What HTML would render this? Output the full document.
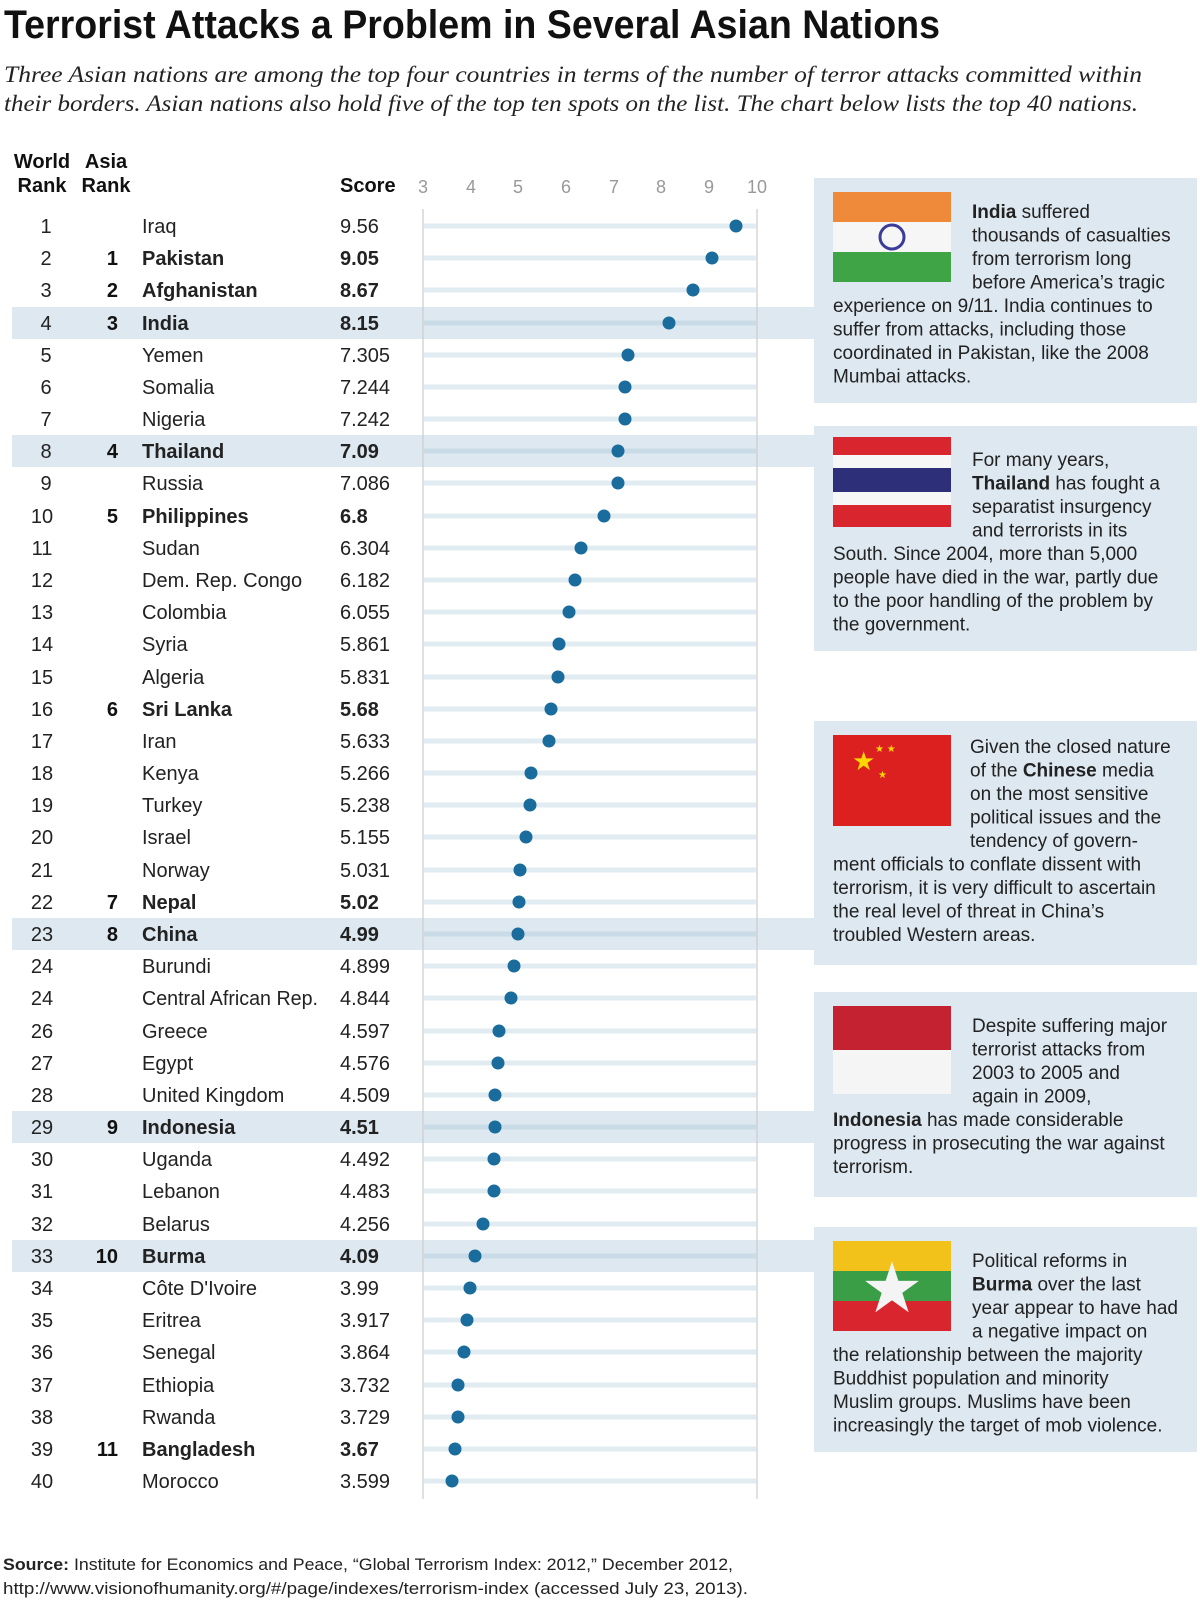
<!DOCTYPE html>
<html><head><meta charset="utf-8"><style>
html,body{margin:0;padding:0;background:#fff;}
svg{display:block;}
text{font-family:"Liberation Sans",sans-serif;}
.n{font-size:20px;fill:#222;}
.b{font-size:20px;fill:#111;font-weight:bold;}
.t{font-size:19px;fill:#222;}
.tk{font-size:18px;fill:#999;}
</style></head><body>
<svg width="1200" height="1601" viewBox="0 0 1200 1601" xmlns="http://www.w3.org/2000/svg">
<text x="4" y="38" font-size="40" font-weight="bold" fill="#111" textLength="936" lengthAdjust="spacingAndGlyphs">Terrorist Attacks a Problem in Several Asian Nations</text>
<text x="4" y="82" font-style="italic" font-size="23" fill="#222" textLength="1138" lengthAdjust="spacingAndGlyphs" style="font-family:'Liberation Serif',serif">Three Asian nations are among the top four countries in terms of the number of terror attacks committed within</text>
<text x="4" y="111" font-style="italic" font-size="23" fill="#222" textLength="1134" lengthAdjust="spacingAndGlyphs" style="font-family:'Liberation Serif',serif">their borders. Asian nations also hold five of the top ten spots on the list. The chart below lists the top 40 nations.</text>

<g font-size="20" font-weight="bold" fill="#111" text-anchor="middle">
<text x="42" y="168">World</text><text x="42" y="192">Rank</text>
<text x="106" y="168">Asia</text><text x="106" y="192">Rank</text>
</g>
<text x="340" y="192" font-size="20" font-weight="bold" fill="#111">Score</text>
<g class="tk" text-anchor="middle">
<text class="tk" x="423" y="193">3</text><text class="tk" x="471" y="193">4</text><text class="tk" x="518" y="193">5</text><text class="tk" x="566" y="193">6</text><text class="tk" x="614" y="193">7</text><text class="tk" x="661" y="193">8</text><text class="tk" x="709" y="193">9</text><text class="tk" x="757" y="193">10</text>
</g>

<g fill="#dde8f0">
<rect x="814" y="178" width="383" height="225"/>
<rect x="814" y="426" width="383" height="225"/>
<rect x="814" y="721" width="383" height="244"/>
<rect x="814" y="992" width="383" height="205"/>
<rect x="814" y="1227" width="383" height="225"/>
</g>
<g fill="#dde8f0">
<rect x="12" y="307" width="802" height="32"/>
<rect x="12" y="435" width="802" height="32"/>
<rect x="12" y="918" width="802" height="32"/>
<rect x="12" y="1111" width="802" height="32"/>
<rect x="12" y="1240" width="802" height="32"/>
</g>

<line x1="423" y1="209" x2="423" y2="1499" stroke="#ccc" stroke-width="1.2"/>
<line x1="757" y1="209" x2="757" y2="1499" stroke="#ccc" stroke-width="1.2"/>

<g stroke="#e0ebf2" stroke-width="5">
<line x1="424" y1="226" x2="756" y2="226"/><line x1="424" y1="258" x2="756" y2="258"/><line x1="424" y1="290" x2="756" y2="290"/><line x1="424" y1="323" x2="756" y2="323" stroke="#c9dbe6"/><line x1="424" y1="355" x2="756" y2="355"/><line x1="424" y1="387" x2="756" y2="387"/><line x1="424" y1="419" x2="756" y2="419"/><line x1="424" y1="451" x2="756" y2="451" stroke="#c9dbe6"/><line x1="424" y1="483" x2="756" y2="483"/><line x1="424" y1="516" x2="756" y2="516"/>
<line x1="424" y1="548" x2="756" y2="548"/><line x1="424" y1="580" x2="756" y2="580"/><line x1="424" y1="612" x2="756" y2="612"/><line x1="424" y1="644" x2="756" y2="644"/><line x1="424" y1="677" x2="756" y2="677"/><line x1="424" y1="709" x2="756" y2="709"/><line x1="424" y1="741" x2="756" y2="741"/><line x1="424" y1="773" x2="756" y2="773"/><line x1="424" y1="805" x2="756" y2="805"/><line x1="424" y1="837" x2="756" y2="837"/>
<line x1="424" y1="870" x2="756" y2="870"/><line x1="424" y1="902" x2="756" y2="902"/><line x1="424" y1="934" x2="756" y2="934" stroke="#c9dbe6"/><line x1="424" y1="966" x2="756" y2="966"/><line x1="424" y1="998" x2="756" y2="998"/><line x1="424" y1="1031" x2="756" y2="1031"/><line x1="424" y1="1063" x2="756" y2="1063"/><line x1="424" y1="1095" x2="756" y2="1095"/><line x1="424" y1="1127" x2="756" y2="1127" stroke="#c9dbe6"/><line x1="424" y1="1159" x2="756" y2="1159"/>
<line x1="424" y1="1191" x2="756" y2="1191"/><line x1="424" y1="1224" x2="756" y2="1224"/><line x1="424" y1="1256" x2="756" y2="1256" stroke="#c9dbe6"/><line x1="424" y1="1288" x2="756" y2="1288"/><line x1="424" y1="1320" x2="756" y2="1320"/><line x1="424" y1="1352" x2="756" y2="1352"/><line x1="424" y1="1385" x2="756" y2="1385"/><line x1="424" y1="1417" x2="756" y2="1417"/><line x1="424" y1="1449" x2="756" y2="1449"/><line x1="424" y1="1481" x2="756" y2="1481"/>
</g>
<g fill="#1a6c9c">
<circle cx="736" cy="226" r="6.5"/><circle cx="712" cy="258" r="6.5"/><circle cx="693" cy="290" r="6.5"/><circle cx="669" cy="323" r="6.5"/><circle cx="628" cy="355" r="6.5"/><circle cx="625" cy="387" r="6.5"/><circle cx="625" cy="419" r="6.5"/><circle cx="618" cy="451" r="6.5"/><circle cx="618" cy="483" r="6.5"/><circle cx="604" cy="516" r="6.5"/>
<circle cx="581" cy="548" r="6.5"/><circle cx="575" cy="580" r="6.5"/><circle cx="569" cy="612" r="6.5"/><circle cx="559" cy="644" r="6.5"/><circle cx="558" cy="677" r="6.5"/><circle cx="551" cy="709" r="6.5"/><circle cx="549" cy="741" r="6.5"/><circle cx="531" cy="773" r="6.5"/><circle cx="530" cy="805" r="6.5"/><circle cx="526" cy="837" r="6.5"/>
<circle cx="520" cy="870" r="6.5"/><circle cx="519" cy="902" r="6.5"/><circle cx="518" cy="934" r="6.5"/><circle cx="514" cy="966" r="6.5"/><circle cx="511" cy="998" r="6.5"/><circle cx="499" cy="1031" r="6.5"/><circle cx="498" cy="1063" r="6.5"/><circle cx="495" cy="1095" r="6.5"/><circle cx="495" cy="1127" r="6.5"/><circle cx="494" cy="1159" r="6.5"/>
<circle cx="494" cy="1191" r="6.5"/><circle cx="483" cy="1224" r="6.5"/><circle cx="475" cy="1256" r="6.5"/><circle cx="470" cy="1288" r="6.5"/><circle cx="467" cy="1320" r="6.5"/><circle cx="464" cy="1352" r="6.5"/><circle cx="458" cy="1385" r="6.5"/><circle cx="458" cy="1417" r="6.5"/><circle cx="455" cy="1449" r="6.5"/><circle cx="452" cy="1481" r="6.5"/>
</g>

<g class="n" text-anchor="middle" font-size="20" fill="#222">
<text x="46" y="233">1</text><text x="46" y="265">2</text><text x="46" y="297">3</text><text x="46" y="330">4</text><text x="46" y="362">5</text><text x="46" y="394">6</text><text x="46" y="426">7</text><text x="46" y="458">8</text><text x="46" y="490">9</text><text x="42" y="523">10</text>
<text x="42" y="555">11</text><text x="42" y="587">12</text><text x="42" y="619">13</text><text x="42" y="651">14</text><text x="42" y="684">15</text><text x="42" y="716">16</text><text x="42" y="748">17</text><text x="42" y="780">18</text><text x="42" y="812">19</text><text x="42" y="844">20</text>
<text x="42" y="877">21</text><text x="42" y="909">22</text><text x="42" y="941">23</text><text x="42" y="973">24</text><text x="42" y="1005">24</text><text x="42" y="1038">26</text><text x="42" y="1070">27</text><text x="42" y="1102">28</text><text x="42" y="1134">29</text><text x="42" y="1166">30</text>
<text x="42" y="1198">31</text><text x="42" y="1231">32</text><text x="42" y="1263">33</text><text x="42" y="1295">34</text><text x="42" y="1327">35</text><text x="42" y="1359">36</text><text x="42" y="1392">37</text><text x="42" y="1424">38</text><text x="42" y="1456">39</text><text x="42" y="1488">40</text>
</g>
<g text-anchor="end" font-size="20" font-weight="bold" fill="#111">
<text x="118" y="265">1</text><text x="118" y="297">2</text><text x="118" y="330">3</text><text x="118" y="458">4</text><text x="118" y="523">5</text><text x="118" y="716">6</text><text x="118" y="909">7</text><text x="118" y="941">8</text><text x="118" y="1134">9</text><text x="118" y="1263">10</text><text x="118" y="1456">11</text>
</g>
<g font-size="20" fill="#222">
<text x="142" y="233">Iraq</text><text x="142" y="265" font-weight="bold">Pakistan</text><text x="142" y="297" font-weight="bold">Afghanistan</text><text x="142" y="330" font-weight="bold">India</text><text x="142" y="362">Yemen</text><text x="142" y="394">Somalia</text><text x="142" y="426">Nigeria</text><text x="142" y="458" font-weight="bold">Thailand</text><text x="142" y="490">Russia</text><text x="142" y="523" font-weight="bold">Philippines</text>
<text x="142" y="555">Sudan</text><text x="142" y="587">Dem. Rep. Congo</text><text x="142" y="619">Colombia</text><text x="142" y="651">Syria</text><text x="142" y="684">Algeria</text><text x="142" y="716" font-weight="bold">Sri Lanka</text><text x="142" y="748">Iran</text><text x="142" y="780">Kenya</text><text x="142" y="812">Turkey</text><text x="142" y="844">Israel</text>
<text x="142" y="877">Norway</text><text x="142" y="909" font-weight="bold">Nepal</text><text x="142" y="941" font-weight="bold">China</text><text x="142" y="973">Burundi</text><text x="142" y="1005" textLength="176" lengthAdjust="spacingAndGlyphs">Central African Rep.</text><text x="142" y="1038">Greece</text><text x="142" y="1070">Egypt</text><text x="142" y="1102">United Kingdom</text><text x="142" y="1134" font-weight="bold">Indonesia</text><text x="142" y="1166">Uganda</text>
<text x="142" y="1198">Lebanon</text><text x="142" y="1231">Belarus</text><text x="142" y="1263" font-weight="bold">Burma</text><text x="142" y="1295">Côte D'Ivoire</text><text x="142" y="1327">Eritrea</text><text x="142" y="1359">Senegal</text><text x="142" y="1392">Ethiopia</text><text x="142" y="1424">Rwanda</text><text x="142" y="1456" font-weight="bold">Bangladesh</text><text x="142" y="1488">Morocco</text>
</g>
<g font-size="20" fill="#222">
<text x="340" y="233">9.56</text><text x="340" y="265" font-weight="bold">9.05</text><text x="340" y="297" font-weight="bold">8.67</text><text x="340" y="330" font-weight="bold">8.15</text><text x="340" y="362">7.305</text><text x="340" y="394">7.244</text><text x="340" y="426">7.242</text><text x="340" y="458" font-weight="bold">7.09</text><text x="340" y="490">7.086</text><text x="340" y="523" font-weight="bold">6.8</text>
<text x="340" y="555">6.304</text><text x="340" y="587">6.182</text><text x="340" y="619">6.055</text><text x="340" y="651">5.861</text><text x="340" y="684">5.831</text><text x="340" y="716" font-weight="bold">5.68</text><text x="340" y="748">5.633</text><text x="340" y="780">5.266</text><text x="340" y="812">5.238</text><text x="340" y="844">5.155</text>
<text x="340" y="877">5.031</text><text x="340" y="909" font-weight="bold">5.02</text><text x="340" y="941" font-weight="bold">4.99</text><text x="340" y="973">4.899</text><text x="340" y="1005">4.844</text><text x="340" y="1038">4.597</text><text x="340" y="1070">4.576</text><text x="340" y="1102">4.509</text><text x="340" y="1134" font-weight="bold">4.51</text><text x="340" y="1166">4.492</text>
<text x="340" y="1198">4.483</text><text x="340" y="1231">4.256</text><text x="340" y="1263" font-weight="bold">4.09</text><text x="340" y="1295">3.99</text><text x="340" y="1327">3.917</text><text x="340" y="1359">3.864</text><text x="340" y="1392">3.732</text><text x="340" y="1424">3.729</text><text x="340" y="1456" font-weight="bold">3.67</text><text x="340" y="1488">3.599</text>
</g>

<g>
<rect x="833" y="192" width="118" height="30" fill="#ef8a3a"/><rect x="833" y="222" width="118" height="30" fill="#f6f6f6"/><rect x="833" y="252" width="118" height="30" fill="#3fa446"/>
<circle cx="892" cy="237" r="12" fill="none" stroke="#3b3b9a" stroke-width="3"/>
<rect x="833" y="437" width="118" height="18" fill="#d9262e"/><rect x="833" y="455" width="118" height="13" fill="#f6f6f6"/><rect x="833" y="468" width="118" height="24" fill="#2d2f78"/><rect x="833" y="492" width="118" height="13" fill="#f6f6f6"/><rect x="833" y="505" width="118" height="22" fill="#d9262e"/>
<rect x="833" y="735" width="118" height="91" fill="#dc2020"/>
<text x="852" y="770" font-size="26" fill="#ffd700">★</text><text x="875" y="752" font-size="10" fill="#ffd700">★ ★</text><text x="878" y="778" font-size="10" fill="#ffd700">★</text>
<rect x="833" y="1006" width="118" height="44" fill="#c42230"/><rect x="833" y="1050" width="118" height="44" fill="#f5f5f5"/>
<rect x="833" y="1241" width="118" height="30" fill="#f2c21b"/><rect x="833" y="1271" width="118" height="30" fill="#3a9e47"/><rect x="833" y="1301" width="118" height="30" fill="#d9262e"/>
<text x="892" y="1312" font-size="70" fill="#f4f4f4" text-anchor="middle">★</text>
</g>

<g class="t" fill="#222">
<text x="972" y="218"><tspan font-weight="bold">India</tspan> suffered</text>
<text x="972" y="241.5">thousands of casualties</text>
<text x="972" y="265">from terrorism long</text>
<text x="972" y="288.5">before America’s tragic</text>
<text x="833" y="312">experience on 9/11. India continues to</text>
<text x="833" y="335.5">suffer from attacks, including those</text>
<text x="833" y="359">coordinated in Pakistan, like the 2008</text>
<text x="833" y="382.5">Mumbai attacks.</text>

<text x="972" y="466">For many years,</text>
<text x="972" y="489.5"><tspan font-weight="bold">Thailand</tspan> has fought a</text>
<text x="972" y="513">separatist insurgency</text>
<text x="972" y="536.5">and terrorists in its</text>
<text x="833" y="560">South. Since 2004, more than 5,000</text>
<text x="833" y="583.5">people have died in the war, partly due</text>
<text x="833" y="607">to the poor handling of the problem by</text>
<text x="833" y="630.5">the government.</text>

<text x="970" y="753">Given the closed nature</text>
<text x="970" y="776.5">of the <tspan font-weight="bold">Chinese</tspan> media</text>
<text x="970" y="800">on the most sensitive</text>
<text x="970" y="823.5">political issues and the</text>
<text x="970" y="847">tendency of govern-</text>
<text x="833" y="870.5">ment officials to conflate dissent with</text>
<text x="833" y="894">terrorism, it is very difficult to ascertain</text>
<text x="833" y="917.5">the real level of threat in China’s</text>
<text x="833" y="941">troubled Western areas.</text>

<text x="972" y="1032">Despite suffering major</text>
<text x="972" y="1055.5">terrorist attacks from</text>
<text x="972" y="1079">2003 to 2005 and</text>
<text x="972" y="1102.5">again in 2009,</text>
<text x="833" y="1126"><tspan font-weight="bold">Indonesia</tspan> has made considerable</text>
<text x="833" y="1149.5">progress in prosecuting the war against</text>
<text x="833" y="1173">terrorism.</text>

<text x="972" y="1267">Political reforms in</text>
<text x="972" y="1290.5"><tspan font-weight="bold">Burma</tspan> over the last</text>
<text x="972" y="1314">year appear to have had</text>
<text x="972" y="1337.5">a negative impact on</text>
<text x="833" y="1361">the relationship between the majority</text>
<text x="833" y="1384.5">Buddhist population and minority</text>
<text x="833" y="1408">Muslim groups. Muslims have been</text>
<text x="833" y="1431.5">increasingly the target of mob violence.</text>
</g>

<text x="3" y="1570" font-size="17" fill="#222" textLength="730" lengthAdjust="spacingAndGlyphs"><tspan font-weight="bold">Source:</tspan> Institute for Economics and Peace, “Global Terrorism Index: 2012,” December 2012,</text>
<text x="3" y="1594" font-size="17" fill="#222" textLength="745" lengthAdjust="spacingAndGlyphs">http://www.visionofhumanity.org/#/page/indexes/terrorism-index (accessed July 23, 2013).</text>
</svg>
</body></html>
